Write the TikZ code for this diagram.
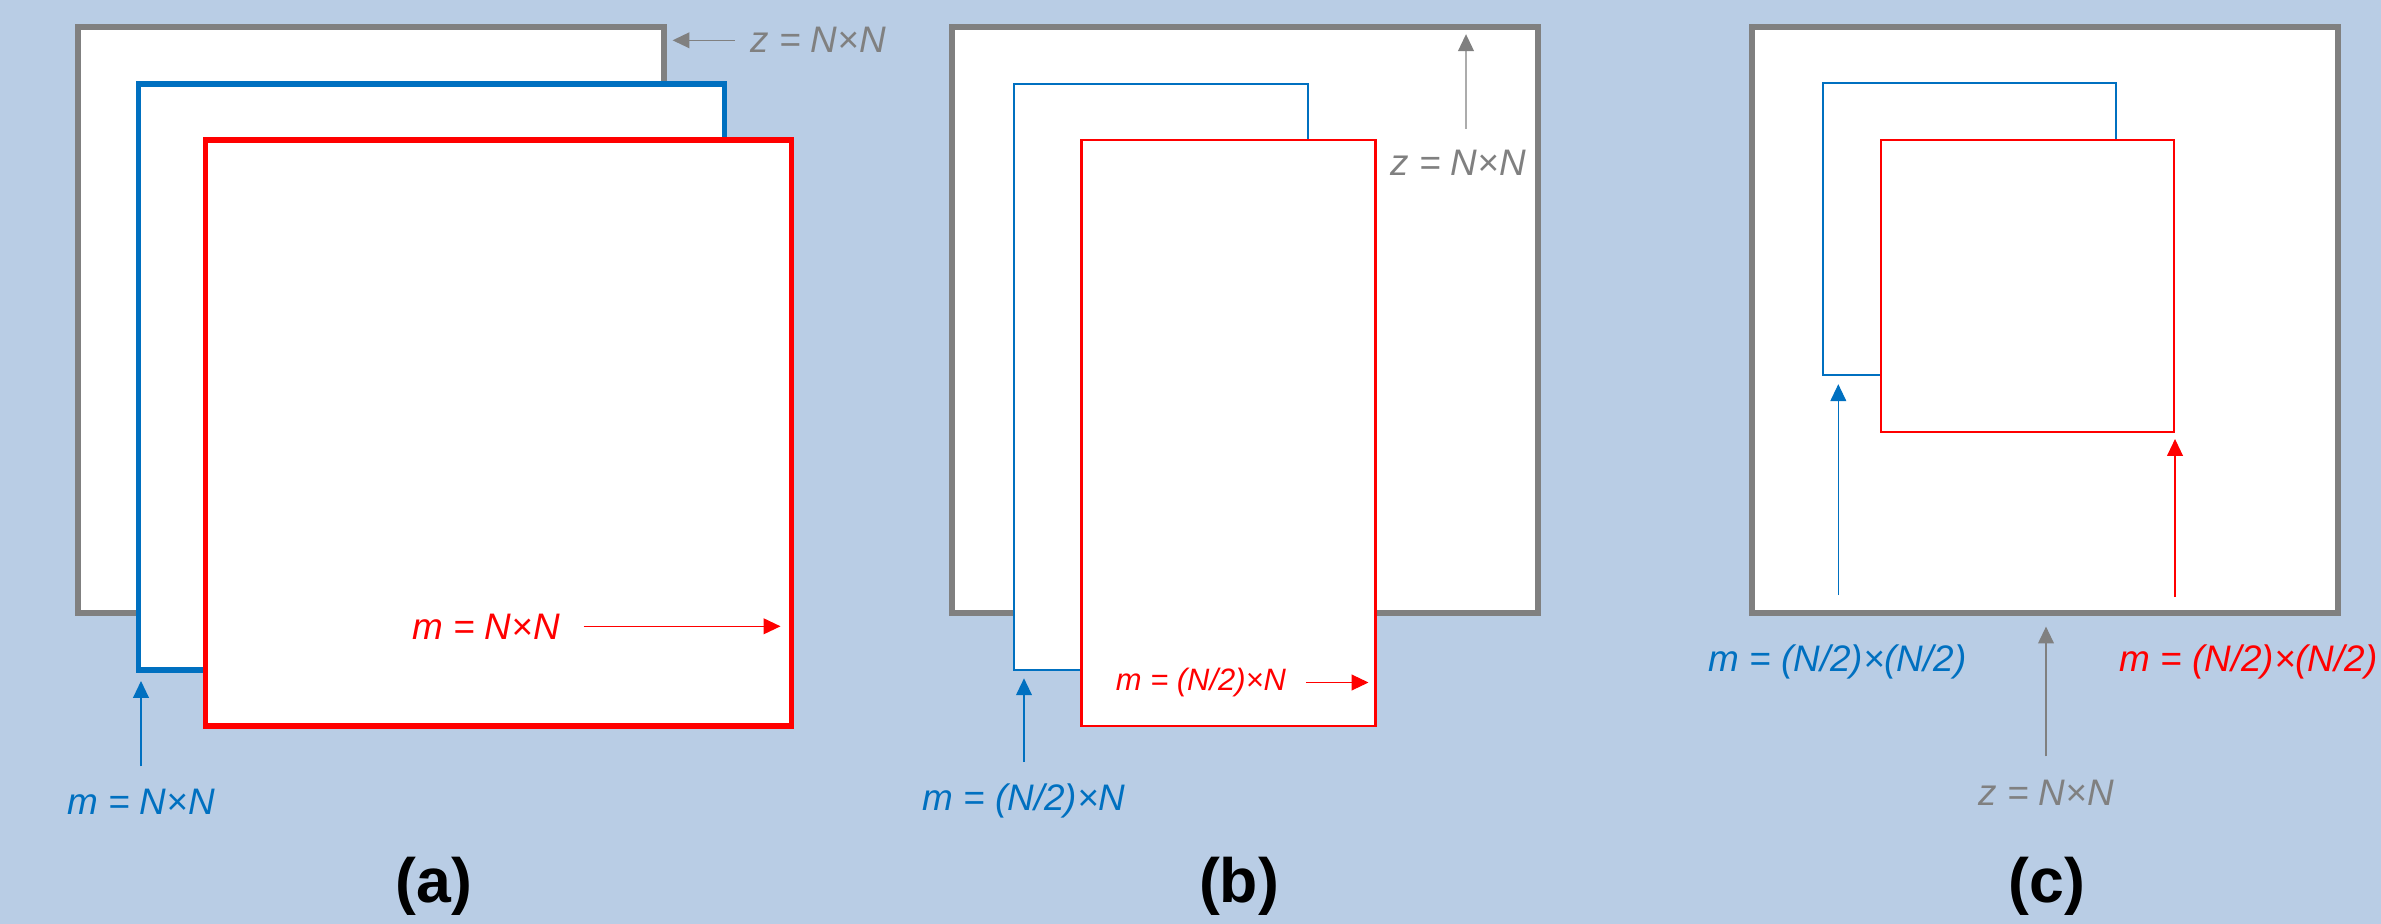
\documentclass[tikz,border=0pt]{standalone}
\usepackage{fontspec}
\setmainfont{Liberation Sans}
\usepackage{xcolor}
\usetikzlibrary{arrows.meta,positioning,calc}
\definecolor{bgblue}{RGB}{185,205,229}
\definecolor{zgray}{RGB}{128,128,128}
\definecolor{mblue}{RGB}{0,112,192}
\definecolor{mred}{RGB}{255,0,0}

\begin{document}
\begin{tikzpicture}[
    plane/.style={rectangle, fill=white, inner sep=0pt, outer sep=0pt, anchor=north west},
    zplane/.style={plane, draw=zgray, line width=1.7pt,
        minimum width=5.86cm, minimum height=5.86cm},
    fullm/.style={plane, line width=1.7pt, minimum width=5.86cm, minimum height=5.86cm},
    halfm/.style={plane, line width=0.6pt, minimum width=2.94cm, minimum height=5.86cm},
    quarterm/.style={plane, line width=0.45pt, minimum width=2.93cm, minimum height=2.92cm},
    lbl/.style={font=\fontsize{10.5}{12}\selectfont\itshape, inner sep=0pt, anchor=base},
    smalllbl/.style={lbl, font=\fontsize{8.8}{10}\selectfont\itshape},
    panel/.style={font=\fontsize{17.8}{20}\selectfont\bfseries, inner sep=0pt, anchor=base},
    arr/.style={-{Triangle[length=4.8pt,width=4.5pt]}, line width=0.35pt}
]
\useasboundingbox (0,0) rectangle (23.81,-9.24);
\fill[bgblue] (0,0) rectangle (23.81,-9.24);

% (a)
\node[zplane] (gA) at (0.78,-0.27) {};
\node[fullm, draw=mblue] (bA) at (1.385,-0.84) {};
\node[fullm, draw=mred] (rA) at (2.055,-1.40) {};

\node[lbl, text=zgray] (zA) at (8.18,-0.53) {z = N×N};
\node[lbl, text=mred] (mrA) at (4.86,-6.39) {m = N×N};
\node[lbl, text=mblue] (mbA) at (1.41,-8.14) {m = N×N};
\node[panel] (tA) at (4.34,-9.02) {(a)};

\draw[arr, zgray, shorten >=0.86mm] ([xshift=-1.5mm]zA.west) -- (zA.west -| gA.east);
\draw[arr, mred, shorten >=1.1mm] ([xshift=2.3mm]mrA.east) -- (mrA.east -| rA.east);
\draw[arr, mblue, shorten >=1.1mm] ([yshift=2.15mm]mbA.north) -- (mbA.north |- bA.south);

% (b)
\node[zplane] (gB) at (9.52,-0.27) {};
\node[halfm, draw=mblue] (bB) at (10.14,-0.84) {};
\node[halfm, draw=mred] (rB) at (10.815,-1.40) {};

\node[lbl, text=zgray] (zB) at (14.58,-1.755) {z = N×N};
\node[smalllbl, text=mred] (mrB) at (12.01,-6.905) {m = (N/2)×N};
\node[lbl, text=mblue] (mbB) at (10.24,-8.10) {m = (N/2)×N};
\node[panel] (tB) at (12.39,-9.02) {(b)};

\draw[arr, zgray, shorten >=0.72mm] ([shift={(0.08,0.205)}]zB.north) -- ([xshift=0.8mm]zB.north |- gB.north);
\draw[arr, mred, shorten >=0.7mm] ([xshift=1.9mm]mrB.east) -- (mrB.east -| rB.east);
\draw[arr, mblue, shorten >=0.83mm] ([yshift=2.05mm]mbB.north) -- (mbB.north |- bB.south);

% (c)
\node[zplane] (gC) at (17.52,-0.27) {};
\node[quarterm, draw=mblue] (bC) at (18.23,-0.83) {};
\node[quarterm, draw=mred] (rC) at (18.81,-1.40) {};

\node[lbl, text=mblue] (mbC) at (18.375,-6.71) {m = (N/2)×(N/2)};
\node[lbl, text=mred] (mrC) at (22.485,-6.71) {m = (N/2)×(N/2)};
\node[lbl, text=zgray] (zC) at (20.46,-8.05) {z = N×N};
\node[panel] (tC) at (20.47,-9.02) {(c)};

\coordinate (tailbC) at (18.383,-5.95);
\coordinate (tailrC) at (21.75,-5.97);
\draw[arr, mblue, shorten >=0.92mm] (tailbC) -- (tailbC |- bC.south);
\draw[arr, mred, shorten >=0.7mm] (tailrC) -- (tailrC |- rC.south);
\draw[arr, zgray, shorten >=1.36mm] ([yshift=2.25mm]zC.north) -- (zC.north |- gC.south);
\end{tikzpicture}
\end{document}
